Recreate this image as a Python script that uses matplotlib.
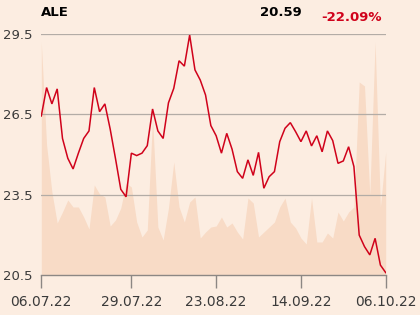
import matplotlib
matplotlib.use("Agg")
import matplotlib.pyplot as plt

# --- data -------------------------------------------------------------
ticker = "ALE"
last_price = "20.59"
change_pct = "-22.09%"

tick_labels = ["06.07.22", "29.07.22", "23.08.22", "14.09.22", "06.10.22"]
tick_index = [0, 17, 33, 49, 65]

price = [26.44, 27.50, 26.89, 27.45, 25.60, 24.86, 24.46, 25.05, 25.60, 25.88,
         27.50, 26.60, 26.89, 25.95, 24.85, 23.70, 23.42, 25.05, 24.96, 25.05,
         25.33, 26.70, 25.88, 25.60, 26.93, 27.47, 28.50, 28.30, 29.46, 28.16,
         27.78, 27.22, 26.08, 25.70, 25.05, 25.79, 25.20, 24.36, 24.11, 24.80,
         24.22, 25.08, 23.74, 24.17, 24.36, 25.48, 25.98, 26.19, 25.85, 25.48,
         25.88, 25.32, 25.70, 25.10, 25.88, 25.52, 24.67, 24.76, 25.29, 24.55,
         21.99, 21.56, 21.25, 21.87, 20.87, 20.59]

volume = [233, 130, 83, 52, 63, 75, 68, 68, 58, 46,
          90, 81, 78, 49, 55, 67, 92, 88, 53, 38,
          45, 157, 48, 35, 67, 113, 68, 53, 73, 78,
          37, 43, 48, 49, 58, 48, 52, 43, 36, 77,
          72, 38, 43, 48, 53, 68, 77, 53, 47, 37,
          31, 77, 33, 33, 42, 37, 63, 54, 63, 68,
          193, 189, 80, 233, 68, 123]

y_ticks = [20.5, 23.5, 26.5, 29.5]

# --- style ------------------------------------------------------------
bg = "#fcede1"
area_c = "#f8dbc6"
line_c = "#d0021b"
grid_c = "#b3aca6"
axis_c = "#8c8784"
text_c = "#3a3a3a"

fig = plt.figure(figsize=(4.2, 3.15), dpi=100, facecolor=bg)
ax = fig.add_axes([41.3 / 420, 1 - 275 / 315, (385.7 - 41.3) / 420, (275 - 34) / 315])
ax2 = ax.twinx()

x = list(range(len(price)))

ax2.fill_between(x, 0, volume, color=area_c, lw=0)
ax2.set_ylim(0, 241)
ax2.set_axis_off()
ax2.patch.set_facecolor(bg)

ax.set_zorder(ax2.get_zorder() + 1)
ax.patch.set_visible(False)

for yv in y_ticks[1:]:
    ax.axhline(yv, color=grid_c, lw=0.9, zorder=1)
ax.plot(x, price, color=line_c, lw=1.1, zorder=3, solid_joinstyle="miter")

ax.set_xlim(0, len(price) - 1)
ax.set_ylim(20.5, 29.5)
ax.set_yticks(y_ticks)
ax.set_yticklabels([f"{v:.1f}" for v in y_ticks])
ax.set_xticks(tick_index)
ax.set_xticklabels(tick_labels)

for s in ["top", "right", "left"]:
    ax.spines[s].set_visible(False)
ax.spines["bottom"].set_color(axis_c)
ax.spines["bottom"].set_linewidth(1.0)

ax.tick_params(axis="y", length=0, pad=6, labelsize=9.5, labelcolor=text_c)
ax.tick_params(axis="x", length=9.5, width=1.0, color=axis_c, pad=5,
               labelsize=10, labelcolor=text_c)

fig.text(41 / 420, 1 - 15.5 / 315, ticker, fontsize=9.5, fontweight="bold",
         color="#000000", ha="left", va="baseline")
fig.text(302 / 420, 1 - 15.5 / 315, last_price, fontsize=9.5, fontweight="bold",
         color="#000000", ha="right", va="baseline")
fig.text(382 / 420, 1 - 21 / 315, change_pct, fontsize=9.5, fontweight="bold",
         color=line_c, ha="right", va="baseline")

fig.savefig("out.png", dpi=100, facecolor=bg)
